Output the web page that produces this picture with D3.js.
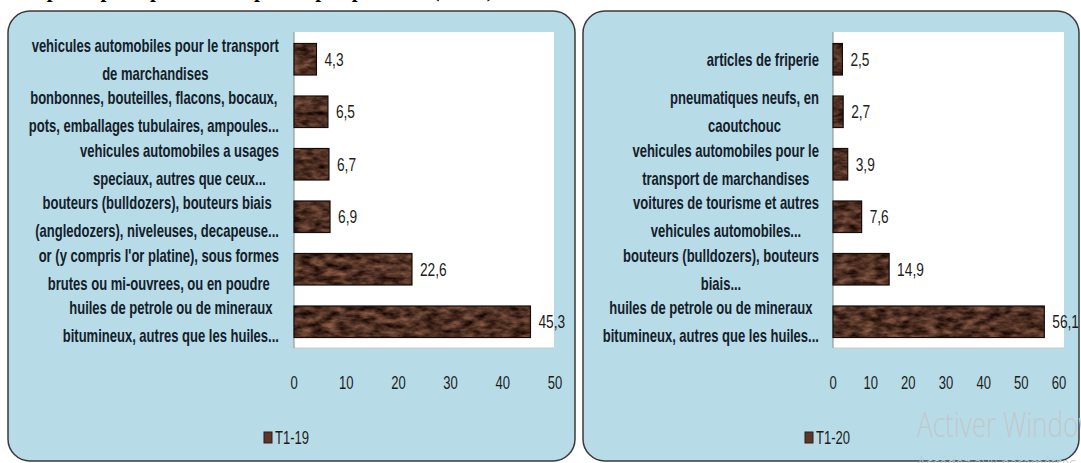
<!DOCTYPE html>
<html>
<head>
<meta charset="utf-8">
<script src="https://cdn.jsdelivr.net/npm/d3@7"></script>
<style>
	html, body { margin: 0; padding: 0; background: #fff; }
	svg { display: block; }
	.lbl { font-family: "Liberation Sans", Arial, sans-serif; font-weight: bold; font-size: 14px; fill: #13202a; }
	.num { font-family: "Liberation Sans", Arial, sans-serif; font-size: 14px; fill: #1c1c1c; }
</style>
</head>
<body>
<div id="chart"></div>
<script>
(function(global) {
	var categories19 = [
		"vehicules automobiles  pour le transport\nde marchandises",
		"bonbonnes, bouteilles, flacons, bocaux,\npots, emballages tubulaires, ampoules...",
		"vehicules automobiles  a usages\nspeciaux, autres que ceux...",
		"bouteurs (bulldozers),  bouteurs biais\n(angledozers),  niveleuses,  decapeuse...",
		"or (y compris l'or platine), sous  formes\nbrutes ou mi-ouvrees,  ou en poudre",
		"huiles de petrole ou de mineraux\nbitumineux, autres que les huiles..."
	];
	var values19 = [4.3, 6.5, 6.7, 6.9, 22.6, 45.3];
	var ticks19 = [0, 10, 20, 30, 40, 50];

	var categories20 = [
		"articles de friperie",
		"pneumatiques neufs, en\ncaoutchouc",
		"vehicules automobiles  pour le\ntransport  de marchandises",
		"voitures de tourisme  et autres\nvehicules automobiles...",
		"bouteurs (bulldozers),  bouteurs\nbiais...",
		"huiles de petrole ou de mineraux\nbitumineux, autres que les huiles..."
	];
	var values20 = [2.5, 2.7, 3.9, 7.6, 14.9, 56.1];
	var ticks20 = [0, 10, 20, 30, 40, 50, 60];

	var seriesNames = ["T1-19", "T1-20"];

	var W = 1081, H = 463;
	var sx = 0.93, sy = 1.3; // the source picture is stretched vertically
	var fmt = function(v) { return d3.format(".1f")(v).replace(".", ","); };
	var stretch = function(px, py, kx) {
		return 'translate(' + px + ',' + py + ') scale(' + (kx || sx) + ',' + sy + ')';
	};

	var svg = d3.select('#chart').append('svg')
		.attr('width', W)
		.attr('height', H);

	// marble-ish texture for the bars
	var defs = svg.append('defs');
	var flt = defs.append('filter')
		.attr('id', 'marble')
		.attr('x', 0).attr('y', 0).attr('width', 1).attr('height', 1)
		.attr('color-interpolation-filters', 'sRGB');
	flt.append('feTurbulence')
		.attr('type', 'fractalNoise')
		.attr('baseFrequency', '0.08 0.17')
		.attr('numOctaves', 3)
		.attr('seed', 7)
		.attr('result', 'noise');
	flt.append('feColorMatrix')
		.attr('in', 'noise')
		.attr('type', 'matrix')
		.attr('values', '0.7 0 0 0 -0.04  0.52 0 0 0 -0.07  0.42 0 0 0 -0.07  0 0 0 0 1')
		.attr('result', 'tex');
	flt.append('feComposite')
		.attr('in', 'tex')
		.attr('in2', 'SourceAlpha')
		.attr('operator', 'in');

	// title, cut off by the top of the picture
	svg.append('text')
		.attr('x', 10)
		.attr('y', -3)
		.attr('font-family', '"Liberation Serif", serif')
		.attr('font-weight', 'bold')
		.attr('font-size', 21)
		.attr('fill', '#000')
		.text("Les principaux produits import\u00e9s par produits (en %)");

	function drawPanel(opt) {
		var g = svg.append('g');

		g.append('rect')
			.attr('x', opt.box[0]).attr('y', opt.box[1])
			.attr('width', opt.box[2]).attr('height', opt.box[3])
			.attr('rx', 22).attr('ry', 22)
			.attr('fill', '#b8dce7')
			.attr('stroke', '#3a3a3a')
			.attr('stroke-width', 1.5);

		var x = d3.scaleLinear()
			.domain([0, opt.max])
			.range(opt.xr);
		var y = d3.scaleBand()
			.domain(d3.range(opt.values.length))
			.range(opt.yr)
			.paddingInner(0.4)
			.paddingOuter(0.2);

		// plot area
		g.append('rect')
			.attr('x', opt.xr[0]).attr('y', opt.yr[0] - 1)
			.attr('width', opt.plotRight - opt.xr[0])
			.attr('height', opt.yr[1] - opt.yr[0] + 1)
			.attr('fill', '#fff');
		g.append('line')
			.attr('x1', opt.xr[0]).attr('x2', opt.plotRight)
			.attr('y1', opt.yr[1]).attr('y2', opt.yr[1])
			.attr('stroke', '#c4c8ca');
		g.append('line')
			.attr('x1', opt.xr[0]).attr('x2', opt.xr[0])
			.attr('y1', opt.yr[0] - 1).attr('y2', opt.yr[1])
			.attr('stroke', '#8a8a8a');

		// bars
		var bars = g.selectAll('.bar')
			.data(opt.values)
			.enter()
			.append('g')
			.attr('class', 'bar');
		bars.append('rect')
			.attr('x', x(0))
			.attr('y', function(d, i) { return y(i); })
			.attr('width', function(d) { return x(d) - x(0); })
			.attr('height', y.bandwidth())
			.attr('fill', '#000')
			.attr('filter', 'url(#marble)');
		bars.append('rect')
			.attr('x', x(0))
			.attr('y', function(d, i) { return y(i); })
			.attr('width', function(d) { return x(d) - x(0); })
			.attr('height', y.bandwidth())
			.attr('fill', 'none')
			.attr('stroke', '#140d0a')
			.attr('stroke-width', 1.2);

		// value labels
		bars.append('text')
			.attr('class', 'num')
			.attr('dy', '0.35em')
			.attr('transform', function(d, i) {
				return stretch(x(d) + 8, y(i) + y.bandwidth() / 2, 0.98);
			})
			.text(function(d) { return fmt(d); });

		// category labels: centred lines, block right aligned against the axis
		opt.categories.forEach(function(c, i) {
			var lines = c.split("\n");
			var cy = y(i) + y.bandwidth() / 2;
			var lg = g.append('g');
			var txt = lg.selectAll('text')
				.data(lines)
				.enter()
				.append('text')
				.attr('class', 'lbl')
				.attr('text-anchor', 'middle')
				.attr('dy', '0.35em')
				.text(function(d) { return d; });
			var maxW = 0;
			txt.each(function() { maxW = Math.max(maxW, this.getComputedTextLength() * sx); });
			var cx = opt.labelRight - maxW / 2;
			txt.attr('transform', function(d, j) {
				return stretch(cx, cy + (j - (lines.length - 1) / 2) * 28);
			});
		});

		// x axis tick labels
		g.selectAll('.tick')
			.data(opt.ticks)
			.enter()
			.append('text')
			.attr('class', 'num')
			.attr('text-anchor', 'middle')
			.attr('dy', '0.35em')
			.attr('transform', function(d) { return stretch(x(d), 383); })
			.text(function(d) { return d; });

		// legend
		g.append('rect')
			.attr('x', opt.legend[0]).attr('y', opt.legend[1] - 6)
			.attr('width', 8).attr('height', 11)
			.attr('fill', '#5e3526')
			.attr('stroke', '#222')
			.attr('stroke-width', 1);
		g.append('text')
			.attr('class', 'num')
			.attr('dy', '0.35em')
			.attr('transform', stretch(opt.legend[0] + 11, opt.legend[1]))
			.text(opt.name);
	}

	drawPanel({
		box: [8, 11, 567, 450],
		xr: [294, 555], yr: [33, 348], plotRight: 554,
		max: 50, ticks: ticks19,
		values: values19, categories: categories19,
		labelRight: 279,
		legend: [264, 438], name: seriesNames[0]
	});
	drawPanel({
		box: [583, 11, 496, 450],
		xr: [833, 1059], yr: [33, 348], plotRight: 1064,
		max: 60, ticks: ticks20,
		values: values20, categories: categories20,
		labelRight: 819,
		legend: [805, 438], name: seriesNames[1]
	});

	// windows activation watermark
	svg.append('text')
		.attr('transform', 'translate(917,437) scale(0.9,1.2)')
		.attr('font-family', '"Open Sans", sans-serif')
		.attr('font-weight', 300)
		.attr('font-size', 29)
		.attr('fill', '#c1c8cc')
		.text('Activer Windows');
	svg.append('text')
		.attr('transform', 'translate(917,471) scale(0.9,1.2)')
		.attr('font-family', '"Open Sans", sans-serif')
		.attr('font-weight', 300)
		.attr('font-size', 16)
		.attr('fill', '#c1c8cc')
		.text('Acc\u00e9dez aux param\u00e8tres pour activer Windows.');
})(window);
</script>
</body>
</html>
